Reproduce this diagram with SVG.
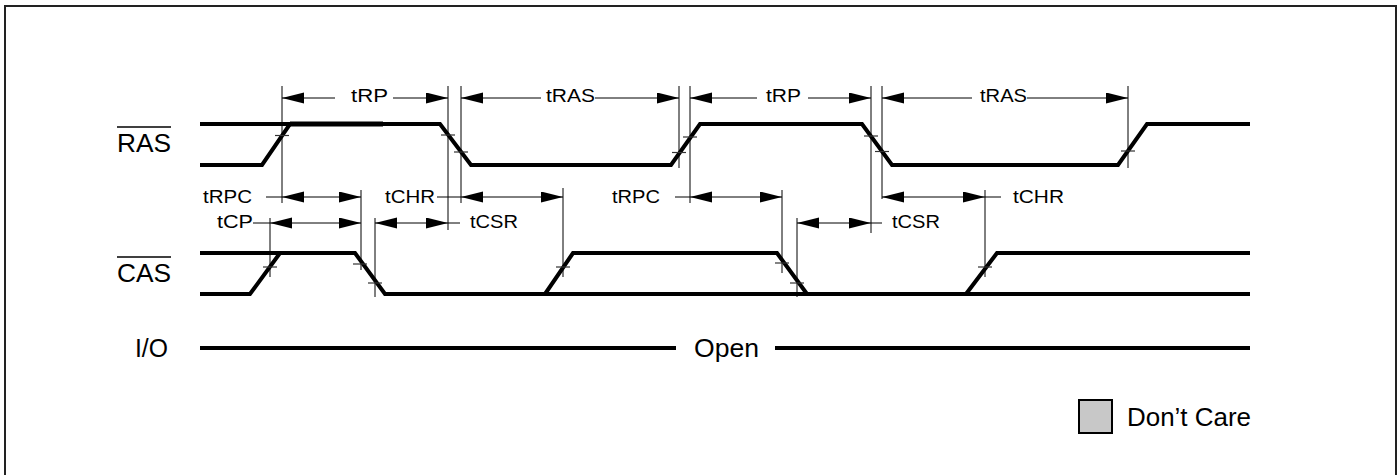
<svg xmlns="http://www.w3.org/2000/svg" width="1398" height="475" viewBox="0 0 1398 475">
<style>
.wave{fill:none;stroke:#000;stroke-width:4;stroke-linejoin:miter}
.ref{stroke:#000;stroke-width:1;fill:none}
.tick{stroke:#333;stroke-width:1.2}
.dim{stroke:#000;stroke-width:1;fill:none;marker-start:url(#ah);marker-end:url(#ah)}
.half{stroke:#000;stroke-width:1;fill:none;marker-end:url(#ah)}
.lead{stroke:#000;stroke-width:1}
.tl{font-family:"Liberation Sans",Arial,sans-serif;font-size:19px;fill:#000}
.big{font-family:"Liberation Sans",Arial,sans-serif;font-size:25px;fill:#000}
</style>
<defs>
<marker id="ah" markerUnits="userSpaceOnUse" markerWidth="23" markerHeight="12" refX="22" refY="5.5" orient="auto-start-reverse" viewBox="0 0 23 12">
<path d="M0,0 L22,5.5 L0,11 z" fill="#000"/>
</marker>
</defs>
<rect x="5" y="6" width="1391" height="480" fill="#fff" stroke="#222" stroke-width="2"/>

<g id="labels">
<g id="ras-label"><text class="big" x="117" y="152" textLength="54" lengthAdjust="spacingAndGlyphs">RAS</text><line x1="117" y1="127" x2="171" y2="127" stroke="#000" stroke-width="1.3"/></g>
<g id="cas-label"><text class="big" x="117" y="282" textLength="54" lengthAdjust="spacingAndGlyphs">CAS</text><line x1="117" y1="257" x2="171" y2="257" stroke="#000" stroke-width="1.3"/></g>
<g id="io-label"><text class="big" x="135" y="357" textLength="33" lengthAdjust="spacingAndGlyphs">I/O</text></g>
</g>

<g id="reference-lines">
<line class="ref" x1="282" y1="86" x2="282" y2="203"/>
<line class="ref" x1="448" y1="86" x2="448" y2="230"/>
<line class="ref" x1="461" y1="86" x2="461" y2="203"/>
<line class="ref" x1="679" y1="86" x2="679" y2="168"/>
<line class="ref" x1="690" y1="86" x2="690" y2="203"/>
<line class="ref" x1="871" y1="86" x2="871" y2="233"/>
<line class="ref" x1="882" y1="86" x2="882" y2="199"/>
<line class="ref" x1="1128" y1="86" x2="1128" y2="168"/>
<line class="ref" x1="361" y1="190" x2="361" y2="270"/>
<line class="ref" x1="270" y1="218" x2="270" y2="277"/>
<line class="ref" x1="563" y1="188" x2="563" y2="277"/>
<line class="ref" x1="375" y1="218" x2="375" y2="297"/>
<line class="ref" x1="782" y1="190" x2="782" y2="273"/>
<line class="ref" x1="797" y1="218" x2="797" y2="297"/>
<line class="ref" x1="985" y1="190" x2="985" y2="277"/>
</g>

<g id="ras-wave">
<polyline class="wave" points="200,165 262,165 290,124 440,124 471,165 671,165 700,124 862,124 892,165 1118,165 1147,124 1250,124"/>
<line class="wave" x1="200" y1="124" x2="290" y2="124"/>
<line x1="290" y1="124" x2="383" y2="124" stroke="#000" stroke-width="5"/>
</g>

<g id="cas-wave">
<polyline class="wave" points="200,294 250,294 280,253 355,253 385,294 1250,294"/>
<line class="wave" x1="200" y1="253" x2="280" y2="253"/>
<polyline class="wave" points="545,294 573,253 777,253 807,294"/>
<polyline class="wave" points="966,294 997,253 1250,253"/>
</g>

<g id="io-wave">
<line class="wave" x1="200" y1="348" x2="676" y2="348"/>
<line class="wave" x1="775" y1="348" x2="1250" y2="348"/>
<text class="big" x="694" y="357" textLength="65" lengthAdjust="spacingAndGlyphs">Open</text>
</g>

<g id="ticks">
<line class="tick" x1="275" y1="135.5" x2="289" y2="135.5"/>
<line class="tick" x1="441" y1="135" x2="455" y2="135"/>
<line class="tick" x1="454" y1="152" x2="468" y2="152"/>
<line class="tick" x1="672" y1="152.5" x2="686" y2="152.5"/>
<line class="tick" x1="683" y1="137" x2="697" y2="137"/>
<line class="tick" x1="864" y1="136" x2="878" y2="136"/>
<line class="tick" x1="875" y1="151.5" x2="889" y2="151.5"/>
<line class="tick" x1="1121" y1="151" x2="1135" y2="151"/>
<line class="tick" x1="263" y1="267" x2="277" y2="267"/>
<line class="tick" x1="353" y1="264" x2="367" y2="264"/>
<line class="tick" x1="368" y1="283" x2="382" y2="283"/>
<line class="tick" x1="556" y1="267" x2="570" y2="267"/>
<line class="tick" x1="775" y1="263" x2="789" y2="263"/>
<line class="tick" x1="790" y1="283" x2="804" y2="283"/>
<line class="tick" x1="978" y1="267" x2="992" y2="267"/>
</g>

<g id="connectors">
<!-- top row -->
<line class="half" x1="335" y1="98" x2="282" y2="98"/>
<line class="half" x1="393" y1="98" x2="448" y2="98"/>
<text class="tl" x="351" y="102" textLength="37" lengthAdjust="spacingAndGlyphs">tRP</text>
<line class="half" x1="541" y1="98" x2="461" y2="98"/>
<line class="half" x1="595" y1="98" x2="679" y2="98"/>
<text class="tl" x="546" y="102" textLength="49" lengthAdjust="spacingAndGlyphs">tRAS</text>
<line class="half" x1="757" y1="98" x2="690" y2="98"/>
<line class="half" x1="808" y1="98" x2="871" y2="98"/>
<text class="tl" x="766" y="102" textLength="35" lengthAdjust="spacingAndGlyphs">tRP</text>
<line class="half" x1="972" y1="98" x2="882" y2="98"/>
<line class="half" x1="1027" y1="98" x2="1128" y2="98"/>
<text class="tl" x="980" y="102" textLength="47" lengthAdjust="spacingAndGlyphs">tRAS</text>
<!-- second row -->
<text class="tl" x="203" y="203" textLength="49" lengthAdjust="spacingAndGlyphs">tRPC</text>
<line class="lead" x1="266" y1="197" x2="282" y2="197"/>
<line class="dim" x1="282" y1="197" x2="361" y2="197"/>
<text class="tl" x="385" y="203" textLength="50" lengthAdjust="spacingAndGlyphs">tCHR</text>
<line class="lead" x1="437" y1="197" x2="461" y2="197"/>
<line class="dim" x1="461" y1="197" x2="563" y2="197"/>
<text class="tl" x="612" y="203" textLength="48" lengthAdjust="spacingAndGlyphs">tRPC</text>
<line class="lead" x1="675" y1="197" x2="690" y2="197"/>
<line class="dim" x1="690" y1="197" x2="782" y2="197"/>
<line class="dim" x1="882" y1="197" x2="985" y2="197"/>
<line class="lead" x1="985" y1="197" x2="1001" y2="197"/>
<text class="tl" x="1013" y="203" textLength="51" lengthAdjust="spacingAndGlyphs">tCHR</text>
<!-- third row -->
<text class="tl" x="217" y="228" textLength="36" lengthAdjust="spacingAndGlyphs">tCP</text>
<line class="lead" x1="253" y1="223" x2="270" y2="223"/>
<line class="dim" x1="270" y1="223" x2="361" y2="223"/>
<line class="dim" x1="375" y1="223" x2="448" y2="223"/>
<line class="lead" x1="448" y1="223" x2="460" y2="223"/>
<text class="tl" x="470" y="228" textLength="48" lengthAdjust="spacingAndGlyphs">tCSR</text>
<line class="dim" x1="797" y1="223" x2="871" y2="223"/>
<line class="lead" x1="871" y1="223" x2="882" y2="223"/>
<text class="tl" x="892" y="228" textLength="48" lengthAdjust="spacingAndGlyphs">tCSR</text>
</g>

<g id="legend">
<rect x="1079" y="400" width="33" height="33" fill="#c8c8c8" stroke="#000" stroke-width="2"/>
<text class="big" x="1127" y="426" textLength="124" lengthAdjust="spacingAndGlyphs">Don’t Care</text>
</g>
</svg>
